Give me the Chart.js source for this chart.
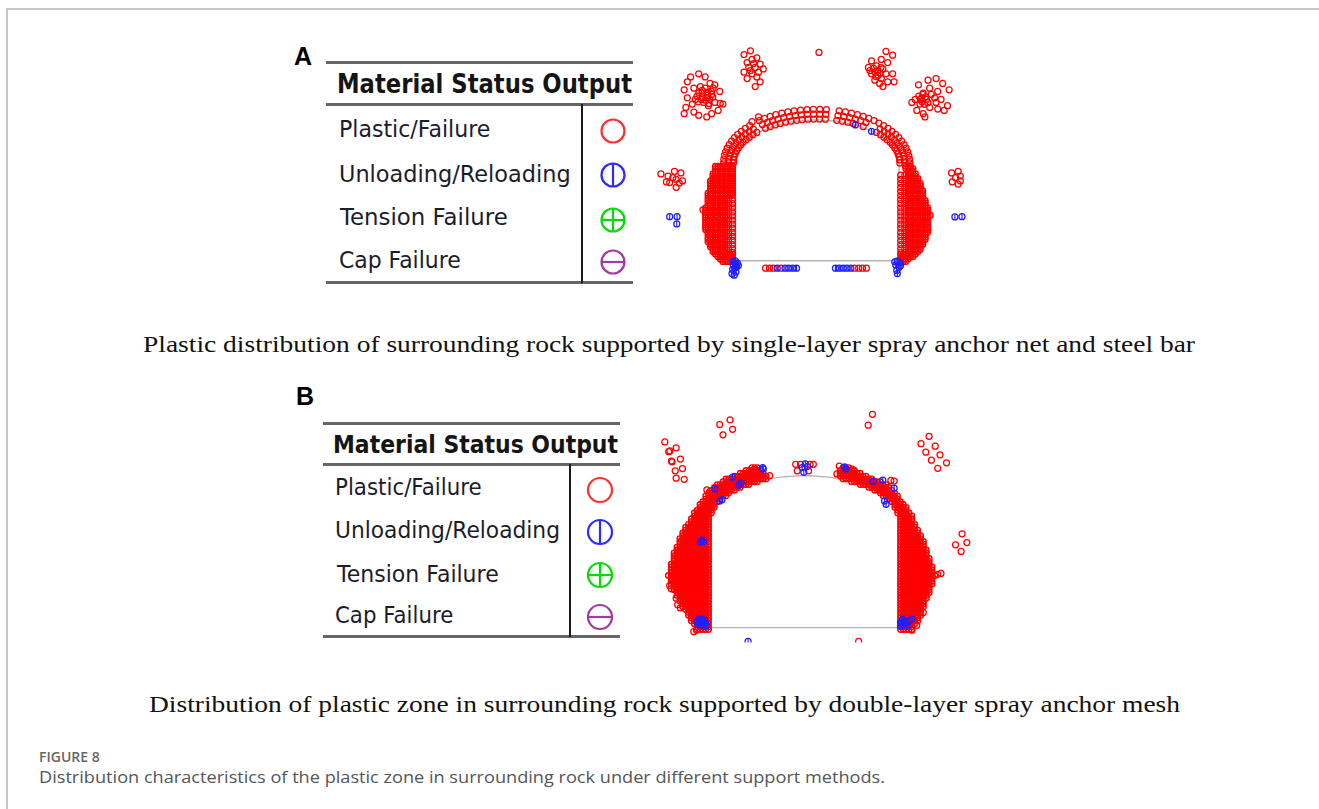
<!DOCTYPE html>
<html><head><meta charset="utf-8">
<script src="https://cdn.jsdelivr.net/npm/chart.js@4.4.1/dist/chart.umd.min.js"></script>
<style>
html,body{margin:0;padding:0;background:#fff;}
body{width:1319px;height:809px;overflow:hidden;position:relative;}
.t{position:absolute;white-space:nowrap;transform-origin:0 0;line-height:1.2;}
.ln{position:absolute;}
canvas{position:absolute;}
svg{position:absolute;overflow:visible;}
</style></head><body>
<div class="ln" style="left:6px;top:8px;right:0;height:2px;background:#c6c6c6"></div>
<div class="ln" style="left:6px;top:8px;width:2px;height:801px;background:#c6c6c6"></div>

<div class="ln" style="left:326px;top:61px;width:307px;height:3px;background:#666"></div>
<div class="ln" style="left:326px;top:103px;width:307px;height:3px;background:#666"></div>
<div class="ln" style="left:326px;top:281px;width:307px;height:3px;background:#666"></div>
<div class="ln" style="left:581px;top:104px;width:2px;height:179px;background:#1a1a1a"></div>

<div class="ln" style="left:323px;top:422px;width:297px;height:3px;background:#666"></div>
<div class="ln" style="left:323px;top:463px;width:297px;height:3px;background:#666"></div>
<div class="ln" style="left:323px;top:635px;width:297px;height:3px;background:#666"></div>
<div class="ln" style="left:569px;top:464px;width:2px;height:173px;background:#1a1a1a"></div>

<canvas id="cA" width="350" height="265" style="left:640px;top:30px"></canvas>
<canvas id="cB" width="350" height="248" style="left:640px;top:400px"></canvas>

<script>
// ---------------- Panel A data (metres, tunnel centre x=0, floor y=0) ----------------
const A_outline = [[-5,0],[-5,6],[-4.83,6.685],[-4.33,7.324],[-3.536,7.872],[-2.5,8.292],[-1.294,8.557],[0,8.647],[1.294,8.557],[2.5,8.292],[3.536,7.872],[4.33,7.324],[4.83,6.685],[5,6],[5,0],[-5,0]];

const A_clusters = [
 [0.14,12.78],
 [-8.04,10.49],[-7.85,10.98],[-7.65,11.28],[-7.16,11.47],[-6.77,11.28],[-6.47,10.88],[-6.18,10.79],[-5.88,10.39],[-5.69,9.61],[-5.98,9.22],[-6.37,9.02],[-6.67,8.82],[-7.16,8.92],[-7.45,9.12],[-7.94,9.41],[-8.04,9.02],[-7.55,9.61],[-7.26,10.10],[-6.96,10.29],[-6.67,10.0],[-6.37,10.20],[-6.86,9.71],[-6.57,9.51],[-7.06,10.69],[-7.45,10.59],[-6.18,9.71],[-7.85,10.0],[-7.36,9.90],[-6.28,10.59],[-6.77,10.59],
 [-6.9,10.05],[-6.6,10.15],[-6.75,9.85],[-7.0,9.9],[-6.5,9.9],[-6.65,10.35],[-6.95,10.45],[-6.4,10.4],[-7.15,10.3],[-6.55,9.65],[-7.2,9.75],[-6.3,10.05],[-5.85,9.65],
 [-4.41,12.65],[-4.02,12.88],[-4.22,12.16],[-3.92,12.35],[-3.63,12.45],[-3.43,12.06],[-3.73,11.86],[-4.12,11.86],[-4.41,11.57],[-3.92,11.47],[-3.53,11.57],[-3.24,11.77],[-4.22,11.18],[-3.63,11.28],[-3.43,10.98],[-3.73,10.69],[-4.02,11.67],[-3.83,12.10],
 [4.21,12.84],[4.61,12.61],[3.92,12.35],[4.31,12.16],[3.33,12.26],[3.14,11.86],[3.63,11.96],[4.02,11.77],[3.33,11.47],[3.72,11.37],[4.21,11.47],[4.61,11.47],[3.53,11.08],[3.82,10.88],[4.31,10.98],[4.70,10.98],[4.02,10.69],[3.23,11.67],[3.92,11.18],[3.72,11.67],
 [3.55,11.55],[3.85,11.5],[3.6,11.3],[3.45,11.8],[3.9,11.85],
 [6.18,10.79],[6.76,11.08],[7.25,11.18],[7.65,10.88],[8.04,10.49],[7.35,10.39],[6.86,10.59],[6.47,10.29],[5.98,9.90],[5.78,9.71],[6.27,9.61],[6.67,9.90],[7.16,10.0],[7.55,9.90],[7.94,9.51],[7.74,9.22],[7.35,9.31],[6.86,9.41],[6.47,9.02],[6.08,9.22],[7.25,9.71],[6.96,10.20],[6.37,10.0],[6.57,8.82],
 [6.4,9.75],[6.6,10.05],[6.3,9.9],[6.55,9.6],[6.2,10.1],[6.75,9.7],[6.45,10.2],
 [-9.45,5.33],[-9.02,5.20],[-8.63,5.49],[-8.24,5.39],[-8.14,4.90],[-8.53,5.0],[-8.92,4.80],[-9.12,4.84],[-8.53,4.51],[-8.34,4.77],[-8.73,5.10],
 [8.19,5.39],[8.59,5.49],[8.43,5.10],[8.72,5.20],[8.23,4.84],[8.59,4.71],[8.72,4.90],
 [-3.10,-0.45],[-2.86,-0.45],[-2.63,-0.45],[-2.16,-0.45],[2.31,-0.45],[2.55,-0.45],[2.78,-0.45],[3.02,-0.45],
 [-6.9,3.13],[-3.92,8.53],[-3.53,8.82]
];

const A_arch = [
 [5.05,6.0],[5.038,6.188],[5.001,6.375],[4.939,6.561],[4.855,6.743],[4.745,6.922],[4.613,7.097],[4.459,7.266],[4.282,7.429],[4.085,7.585],[3.868,7.734],[3.632,7.874],
 [2.824,8.236],[2.214,8.424],[1.892,8.501],[1.560,8.565],[1.222,8.617],[0.528,8.682],[0.176,8.695],
 [-0.176,8.695],[-0.528,8.682],[-0.877,8.656],[-1.222,8.617],[-1.560,8.565],[-1.892,8.501],[-2.214,8.424],[-2.525,8.336],[-2.824,8.236],[-3.109,8.125],
 [-3.632,7.874],[-3.868,7.734],[-4.085,7.585],[-4.282,7.429],[-4.459,7.266],[-4.613,7.097],[-4.745,6.922],[-4.855,6.743],[-4.939,6.561],[-5.001,6.375],[-5.038,6.188],[-5.05,6.0],
 [5.35,6.0],[5.337,6.209],[5.298,6.417],[5.233,6.623],[5.143,6.826],[5.027,7.025],[4.887,7.219],[4.724,7.407],[4.537,7.588],[4.328,7.762],[4.098,7.926],[3.848,8.082],
 [2.992,8.485],[2.675,8.595],[2.345,8.694],[2.004,8.779],[1.653,8.850],[1.294,8.908],[0.559,8.981],[0.187,8.995],
 [-0.187,8.995],[-0.559,8.981],[-0.929,8.951],[-1.294,8.908],[-1.653,8.850],[-2.004,8.779],[-2.345,8.694],[-2.675,8.595],[-2.992,8.485],[-3.294,8.362],
 [-3.848,8.082],[-4.098,7.926],[-4.328,7.762],[-4.537,7.588],[-4.724,7.407],[-4.887,7.219],[-5.027,7.025],[-5.143,6.826],[-5.233,6.623],[-5.298,6.417],[-5.337,6.209],[-5.35,6.0],
 [5.65,6.0],[5.636,6.230],[5.595,6.459],[5.526,6.685],[5.431,6.909],[5.309,7.128],[5.161,7.341],[4.988,7.548],[4.791,7.747],[4.571,7.938],[4.328,8.119],[4.064,8.290],[3.780,8.450],[3.479,8.598],
 [3.159,8.733],[2.825,8.855],[2.477,8.963],[2.116,9.057],[1.746,9.136],[1.367,9.199],[0.590,9.279],[0.197,9.295],
 [-0.197,9.295],[-0.590,9.279],[-0.981,9.247],[-1.367,9.199],[-1.746,9.136],[-2.116,9.057],[-2.477,8.963],[-2.825,8.855],[-3.159,8.733],[-3.479,8.598],
 [-4.064,8.290],[-4.328,8.119],[-4.571,7.938],[-4.791,7.747],[-4.988,7.548],[-5.161,7.341],[-5.309,7.128],[-5.431,6.909],[-5.526,6.685],[-5.595,6.459],[-5.636,6.230],[-5.65,6.0]
];

const A_gridX_L = [-5.35,-5.1];
const A_gridY_L = [0.5,0.75,1.0,1.25,1.5,1.75,2.0,2.25,2.5,2.75,3.0,3.25,3.5,3.75];
const A_gridX_R = [5.1,5.35];
const A_gridY_R = [0.5,0.75,1.0,1.25,1.5,1.75,2.0,2.25,2.5,2.75,3.0,3.25,3.5,3.75,4.0,4.25,4.5,4.75,5.0,5.25];

const A_massCols_L = [-6.9,-6.75,-6.6,-6.45,-6.3,-6.15,-6.0,-5.85,-5.7,-5.55,-5.4,-5.25,-5.1];
const A_massRows_L = [[-0.05,-5.7,-5.1],[0.1,-5.85,-5.1],[0.25,-6.0,-5.1],[0.4,-6.2,-5.1],[0.55,-6.3,-5.55],[0.7,-6.4,-5.55],[0.85,-6.45,-5.55],[1.0,-6.5,-5.55],[1.15,-6.6,-5.55],[1.3,-6.6,-5.55],[1.45,-6.65,-5.55],[1.6,-6.7,-5.55],[1.75,-6.7,-5.55],[1.9,-6.75,-5.55],[2.05,-6.75,-5.55],[2.2,-6.8,-5.55],[2.35,-6.8,-5.55],[2.5,-6.8,-5.55],[2.65,-6.85,-5.55],[2.8,-6.8,-5.55],[2.95,-6.8,-5.55],[3.1,-6.75,-5.55],[3.25,-6.75,-5.55],[3.4,-6.7,-5.55],[3.55,-6.7,-5.55],[3.7,-6.7,-5.55],[3.85,-6.65,-5.55],[4.0,-6.6,-5.1],[4.15,-6.6,-5.1],[4.3,-6.55,-5.1],[4.45,-6.55,-5.1],[4.6,-6.5,-5.1],[4.75,-6.5,-5.1],[4.9,-6.45,-5.1],[5.05,-6.4,-5.1],[5.2,-6.35,-5.1],[5.35,-6.3,-5.1],[5.5,-6.25,-5.1],[5.65,-6.2,-5.1],[5.8,-6.15,-5.1]];
const A_massCols_R = [5.1,5.25,5.4,5.55,5.7,5.85,6.0,6.15,6.3,6.45,6.6,6.75,6.9];
const A_massRows_R = [[-0.05,5.1,5.5],[0.1,5.1,5.6],[0.25,5.1,5.85],[0.4,5.1,6.0],[0.55,5.55,6.15],[0.7,5.55,6.3],[0.85,5.55,6.4],[1.0,5.55,6.5],[1.15,5.55,6.55],[1.3,5.55,6.6],[1.45,5.55,6.65],[1.6,5.55,6.7],[1.75,5.55,6.75],[1.9,5.55,6.75],[2.05,5.55,6.8],[2.2,5.55,6.8],[2.35,5.55,6.85],[2.5,5.55,6.85],[2.65,5.55,6.85],[2.8,5.55,6.9],[2.95,5.55,6.85],[3.1,5.55,6.8],[3.25,5.55,6.75],[3.4,5.55,6.7],[3.55,5.55,6.65],[3.7,5.55,6.6],[3.85,5.55,6.55],[4.0,5.55,6.5],[4.15,5.55,6.45],[4.3,5.55,6.45],[4.45,5.55,6.4],[4.6,5.55,6.35],[4.75,5.55,6.3],[4.9,5.55,6.25],[5.05,5.55,6.2],[5.2,5.55,6.1],[5.35,5.55,6.0],[5.5,5.55,5.9],[5.65,5.4,5.85],[5.8,5.4,5.7]];

const A_unload = [
 [-8.92,2.71],[-8.47,2.71],[-8.49,2.26],[8.39,2.69],[8.82,2.71],
 [-2.39,-0.45],[-1.92,-0.45],[-1.69,-0.45],[-1.45,-0.45],[-1.22,-0.45],[1.14,-0.45],[1.37,-0.45],[1.61,-0.45],[1.84,-0.45],[2.08,-0.45],
 [-4.94,0.0],[-4.81,-0.14],[-5.06,-0.25],[-4.86,-0.39],[-5.10,-0.53],[-4.90,-0.69],[-5.0,-0.88],[-5.14,-0.78],[-4.75,-0.29],[-4.98,-0.45],[-5.05,-0.05],[-4.88,-0.2],
 [4.90,0.0],[5.06,-0.14],[4.80,-0.25],[5.0,-0.39],[4.86,-0.59],[5.10,-0.29],[4.74,-0.06],[4.90,-0.78],
 [2.35,8.33],[3.33,7.94]
];

// ---------------- Panel B data ----------------
const B_outline = [[-5,0],[-5,5.6],[-4.83,6.229],[-4.33,6.815],[-3.536,7.318],[-2.5,7.704],[-1.294,7.947],[0,8.03],[1.294,7.947],[2.5,7.704],[3.536,7.318],[4.33,6.815],[4.83,6.229],[5,5.6],[5,0],[-5,0]];

const B_scatter = [
 [-4.42,10.72],[-3.88,10.97],[-3.75,10.47],[-4.25,10.18],
 [-7.28,9.80],[-7.08,9.29],[-7.02,9.33],[-6.69,9.49],[-6.47,8.90],[-6.94,8.79],[-6.9,8.75],[-6.36,8.40],[-6.74,8.28],[-6.27,7.83],[-6.69,7.89],
 [3.54,11.26],[3.32,10.69],
 [6.49,10.10],[6.07,9.71],[6.81,9.58],[6.32,9.26],[7.06,9.12],[6.61,8.84],[7.40,8.70],[6.94,8.41],
 [8.21,4.95],[7.87,4.37],[8.46,4.49],[8.16,4.02],
 [7.11,2.86],[6.94,2.81],[2.82,-0.73],
 [-0.46,8.62],[-0.21,8.62],[0.29,8.62],[0.46,8.62],[-0.38,8.28],[0.21,8.28],
 [-7.03,2.22],[-6.95,2.05],[-6.69,1.55],[-6.61,1.21],[-6.47,1.04],[-5.77,-0.22],[-5.63,-0.14],[-5.09,7.27],[-4.93,7.19],[-2.74,8.2],[-2.49,7.86],[-2.23,8.03],[-1.81,8.03],[-2.57,8.37],
 [1.69,8.11],[1.81,8.53],[2.48,8.37],[4.5,7.77],[4.67,7.74],[6.19,0.79],[5.85,0.12],[5.6,-0.14]
];

const B_massCols_L = [-7.1,-6.95,-6.8,-6.65,-6.5,-6.35,-6.2,-6.05,-5.9,-5.75,-5.6,-5.45,-5.3,-5.15,-5.0,-4.85,-4.7,-4.55,-4.4,-4.25,-4.1,-3.95,-3.8,-3.65,-3.5,-3.35,-3.2,-3.05,-2.9,-2.75,-2.6,-2.45,-2.3,-2.15,-2.0,-1.85];
const B_massRows_L = [[-0.1,-5.6,-5.0],[0.05,-5.7,-4.95],[0.2,-5.85,-4.95],[0.35,-5.95,-4.95],[0.5,-6.0,-4.95],[0.65,-6.1,-4.95],[0.8,-6.15,-4.95],[0.95,-6.25,-4.95],[1.1,-6.35,-4.95],[1.25,-6.4,-4.95],[1.4,-6.5,-4.95],[1.55,-6.6,-4.95],[1.7,-6.65,-4.95],[1.85,-6.75,-4.95],[2.0,-6.8,-4.95],[2.15,-6.9,-4.95],[2.3,-6.95,-4.95],[2.45,-7.0,-4.95],[2.6,-7.05,-4.95],[2.75,-7.1,-4.95],[2.9,-7.05,-4.95],[3.05,-7.05,-4.95],[3.2,-7.0,-4.95],[3.35,-6.95,-4.95],[3.5,-6.9,-4.95],[3.65,-6.85,-4.95],[3.8,-6.8,-4.95],[3.95,-6.8,-4.95],[4.1,-6.75,-4.95],[4.25,-6.7,-4.95],[4.4,-6.6,-4.95],[4.55,-6.55,-4.95],[4.7,-6.5,-4.95],[4.85,-6.45,-4.95],[5.0,-6.4,-4.95],[5.15,-6.3,-4.95],[5.3,-6.2,-4.95],[5.45,-6.1,-4.95],[5.6,-6.0,-4.95],[5.75,-5.9,-4.95],[5.9,-5.85,-4.9],[6.05,-5.75,-4.85],[6.2,-5.65,-4.8],[6.35,-5.55,-4.7],[6.5,-5.45,-4.6],[6.65,-5.35,-4.45],[6.8,-5.25,-4.3],[6.95,-5.15,-4.1],[7.1,-5.05,-3.85],[7.25,-4.9,-3.6],[7.4,-4.75,-3.3],[7.55,-4.55,-2.9],[7.7,-4.35,-2.4],[7.85,-4.1,-1.9],[8.0,-3.75,-1.9],[8.15,-3.45,-2.1],[8.3,-3.1,-2.3],[8.45,-2.75,-2.4]];
const B_massCols_R = [1.85,2.0,2.15,2.3,2.45,2.6,2.75,2.9,3.05,3.2,3.35,3.5,3.65,3.8,3.95,4.1,4.25,4.4,4.55,4.7,4.85,5.0,5.15,5.3,5.45,5.6,5.75,5.9,6.05,6.2,6.35,6.5,6.65,6.8];
const B_massRows_R = [[-0.1,5.0,5.6],[0.05,4.95,5.7],[0.2,4.95,5.8],[0.35,4.95,5.9],[0.5,4.95,6.0],[0.65,4.95,6.05],[0.8,4.95,6.1],[0.95,4.95,6.15],[1.1,4.95,6.2],[1.25,4.95,6.25],[1.4,4.95,6.3],[1.55,4.95,6.35],[1.7,4.95,6.4],[1.85,4.95,6.5],[2.0,4.95,6.55],[2.15,4.95,6.6],[2.3,4.95,6.65],[2.45,4.95,6.7],[2.6,4.95,6.75],[2.75,4.95,6.8],[2.9,4.95,6.75],[3.05,4.95,6.7],[3.2,4.95,6.65],[3.35,4.95,6.6],[3.5,4.95,6.55],[3.65,4.95,6.5],[3.8,4.95,6.45],[3.95,4.95,6.4],[4.1,4.95,6.35],[4.25,4.95,6.3],[4.4,4.95,6.25],[4.55,4.95,6.2],[4.7,4.95,6.1],[4.85,4.95,6.05],[5.0,4.95,6.0],[5.15,4.95,5.9],[5.3,4.95,5.85],[5.45,4.95,5.8],[5.6,4.95,5.7],[5.75,4.95,5.65],[5.9,4.9,5.6],[6.05,4.85,5.5],[6.2,4.8,5.4],[6.35,4.7,5.3],[6.5,4.6,5.2],[6.65,4.45,5.05],[6.8,4.3,4.95],[6.95,4.1,4.85],[7.1,3.85,4.75],[7.25,3.6,4.65],[7.4,3.3,4.5],[7.55,2.9,4.3],[7.7,2.4,4.0],[7.85,1.9,3.6],[8.0,1.8,3.2],[8.15,1.8,2.9],[8.3,1.85,2.6],[8.45,1.9,2.3]];

const B_unload = [
 [0.04,8.65],[-0.04,8.20],[-0.13,8.45],[0.15,8.5],
 [-2.18,8.45],[-2.15,8.37],[-3.75,7.94],[-4.67,7.32],[-4.42,6.68],[-4.30,6.75],[-3.41,7.52],[-3.3,7.65],
 [-5.43,4.53],[-5.26,4.53],[-5.35,4.62],
 [-5.6,0.3],[-5.45,0.35],[-5.3,0.3],[-5.15,0.25],[-5.55,0.15],[-5.4,0.15],[-5.25,0.1],[-5.1,0.1],[-5.35,0.45],[-5.5,0.45],[-5.2,0.4],
 [5.0,0.1],[5.15,0.15],[5.3,0.25],[5.45,0.35],[5.6,0.45],[5.05,0.3],[5.2,0.35],[5.1,0.45],[5.35,0.1],[5.0,0.25],
 [2.09,8.48],[2.15,8.37],[4.17,6.68],[4.25,6.51],[4.08,7.78],[4.67,7.36],[3.58,7.73],
 [-2.94,-0.73]
];

// ---------------- text ----------------
const TXT = [
 {t:'A', x:294, b:65, f:'bold 25px "Liberation Sans"', c:'#000'},
 {t:'Material Status Output', x:336.7, b:93.3, w:295, f:'bold 26px "DejaVu Sans"', c:'#151515'},
 {t:'Plastic/Failure', x:339.3, b:136.7, w:151.4, f:'23px "DejaVu Sans"', c:'#1c1c2a'},
 {t:'Unloading/Reloading', x:339.3, b:181.7, w:231.7, f:'23px "DejaVu Sans"', c:'#1c1c2a'},
 {t:'Tension Failure', x:340, b:225, w:167.7, f:'23px "DejaVu Sans"', c:'#1c1c2a'},
 {t:'Cap Failure', x:339.3, b:268.3, w:121.7, f:'23px "DejaVu Sans"', c:'#1c1c2a'},
 {t:'Plastic distribution of surrounding rock supported by single-layer spray anchor net and steel bar', x:143.3, b:352, w:1052, f:'24px "Liberation Serif", "Times New Roman", serif', c:'#111'},
 {t:'B', x:296, b:405, f:'bold 25px "Liberation Sans"', c:'#000'},
 {t:'Material Status Output', x:333.3, b:453.3, w:285, f:'bold 25px "DejaVu Sans"', c:'#151515'},
 {t:'Plastic/Failure', x:335, b:495, w:146.7, f:'23px "DejaVu Sans"', c:'#1c1c2a'},
 {t:'Unloading/Reloading', x:335, b:538.3, w:225, f:'23px "DejaVu Sans"', c:'#1c1c2a'},
 {t:'Tension Failure', x:336.7, b:581.7, w:161.7, f:'23px "DejaVu Sans"', c:'#1c1c2a'},
 {t:'Cap Failure', x:335, b:623.3, w:118.3, f:'23px "DejaVu Sans"', c:'#1c1c2a'},
 {t:'Distribution of plastic zone in surrounding rock supported by double-layer spray anchor mesh', x:149, b:712, w:1031, f:'24px "Liberation Serif", "Times New Roman", serif', c:'#111'},
 {t:'FIGURE 8', x:39, b:762, f:'600 14px "Open Sans"', c:'#666'},
 {t:'Distribution characteristics of the plastic zone in surrounding rock under different support methods.', x:39, b:783, w:846, f:'16px "Open Sans"', c:'#555'}
];

const SYMS = [
 {cx:613.3, cy:130.7, r:11.5, k:'o', c:'#ff3030'},
 {cx:613.3, cy:175, r:11.5, k:'v', c:'#2b2bff'},
 {cx:613.3, cy:220, r:11.5, k:'+', c:'#00dd00'},
 {cx:613.3, cy:261.7, r:11.5, k:'-', c:'#a23aa2'},
 {cx:600, cy:490, r:12, k:'o', c:'#ff3030'},
 {cx:600, cy:531.7, r:12, k:'v', c:'#2b2bff'},
 {cx:600, cy:575, r:12, k:'+', c:'#00dd00'},
 {cx:600, cy:616.7, r:12, k:'-', c:'#a23aa2'}
];

// ---------------- build ----------------
TXT.forEach(o => {
  const el = document.createElement('div');
  el.className = 't'; el.textContent = o.t;
  el.style.font = o.f; el.style.color = o.c; el.style.left = o.x + 'px'; el.style.top = '0px';
  document.body.appendChild(el);
  const w = el.getBoundingClientRect().width;
  const probe = document.createElement('span');
  probe.style.cssText = 'display:inline-block;width:0;height:0;vertical-align:baseline';
  el.appendChild(probe);
  const base = probe.getBoundingClientRect().top - el.getBoundingClientRect().top;
  el.style.top = (o.b - base) + 'px';
  if (o.w) el.style.transform = 'scaleX(' + (o.w / w) + ')';
});

const NS = 'http://www.w3.org/2000/svg';
SYMS.forEach(s => {
  const svg = document.createElementNS(NS, 'svg');
  svg.setAttribute('width', 30); svg.setAttribute('height', 30);
  svg.style.left = (s.cx - 15) + 'px'; svg.style.top = (s.cy - 15) + 'px';
  const add = (tag, attrs) => { const e = document.createElementNS(NS, tag); for (const k in attrs) e.setAttribute(k, attrs[k]); svg.appendChild(e); };
  add('circle', {cx:15, cy:15, r:s.r, fill:'none', stroke:s.c, 'stroke-width':2.2});
  if (s.k === 'v' || s.k === '+') add('line', {x1:15, y1:15 - s.r, x2:15, y2:15 + s.r, stroke:s.c, 'stroke-width':2.2});
  if (s.k === '-' || s.k === '+') add('line', {x1:15 - s.r, y1:15, x2:15 + s.r, y2:15, stroke:s.c, 'stroke-width':2.2});
  document.body.appendChild(svg);
});

function massPts(cols, rows) {
  const out = [];
  rows.forEach(r => cols.forEach(c => { if (c >= r[1] - 1e-6 && c <= r[2] + 1e-6) out.push([c, r[0]]); }));
  return out;
}
function gridPts(xs, ys) { const out = []; ys.forEach(y => xs.forEach(x => out.push([x, y]))); return out; }
const xy = a => a.map(p => ({x: p[0], y: p[1]}));

function makeChart(id, xr, yr, outline, red, mass, blue) {
  new Chart(document.getElementById(id), {
    type: 'scatter',
    data: { datasets: [
      { label:'outline', data: xy(outline), showLine: true, borderColor: '#b3b3b3', borderWidth: 1.4, pointRadius: 0, tension: 0, order: 10 },
      { label:'Plastic/Failure (dense)', data: xy(mass), pointStyle: 'circle', pointRadius: 2.7, pointBorderWidth: 1.4, pointBorderColor: '#ff0000', pointBackgroundColor: 'rgba(255,255,255,0)', borderColor: '#ff0000', order: 6 },
      { label:'Plastic/Failure', data: xy(red), pointStyle: 'circle', pointRadius: 3.0, pointBorderWidth: 1.25, pointBorderColor: '#ff0000', pointBackgroundColor: 'rgba(255,255,255,0)', borderColor: '#ff0000', order: 5 },
      { label:'Unloading/Reloading', data: xy(blue), pointStyle: 'circle', pointRadius: 3.0, pointBorderWidth: 1.25, pointBorderColor: '#2020ff', pointBackgroundColor: 'rgba(255,255,255,0)', borderColor: '#2020ff', order: 3 },
      { label:'Unloading/Reloading bar', data: xy(blue), pointStyle: 'line', pointRotation: 90, pointRadius: 3.0, pointBorderWidth: 1.1, pointBorderColor: '#2020ff', borderColor: '#2020ff', order: 2 }
    ]},
    options: {
      responsive: false, animation: false, devicePixelRatio: 1, events: [],
      layout: { padding: 0 },
      plugins: { legend: { display: false }, tooltip: { enabled: false } },
      scales: {
        x: { type: 'linear', display: false, min: xr[0], max: xr[1] },
        y: { type: 'linear', display: false, min: yr[0], max: yr[1] }
      }
    }
  });
}

const A_sparse = [].concat(A_clusters, A_arch, gridPts(A_gridX_L, A_gridY_L), gridPts(A_gridX_R, A_gridY_R));
const A_dense = [].concat(massPts(A_massCols_L, A_massRows_L), massPts(A_massCols_R, A_massRows_R));
const B_dense = [].concat(massPts(B_massCols_L, B_massRows_L), massPts(B_massCols_R, B_massRows_R));

makeChart('cA', [-10.394, 10.194], [-1.765, 13.824], A_outline, A_sparse, A_dense, A_unload);
makeChart('cB', [-8.293, 9.384], [-0.793, 11.732], B_outline, B_scatter, B_dense, B_unload);
</script>
</body></html>
